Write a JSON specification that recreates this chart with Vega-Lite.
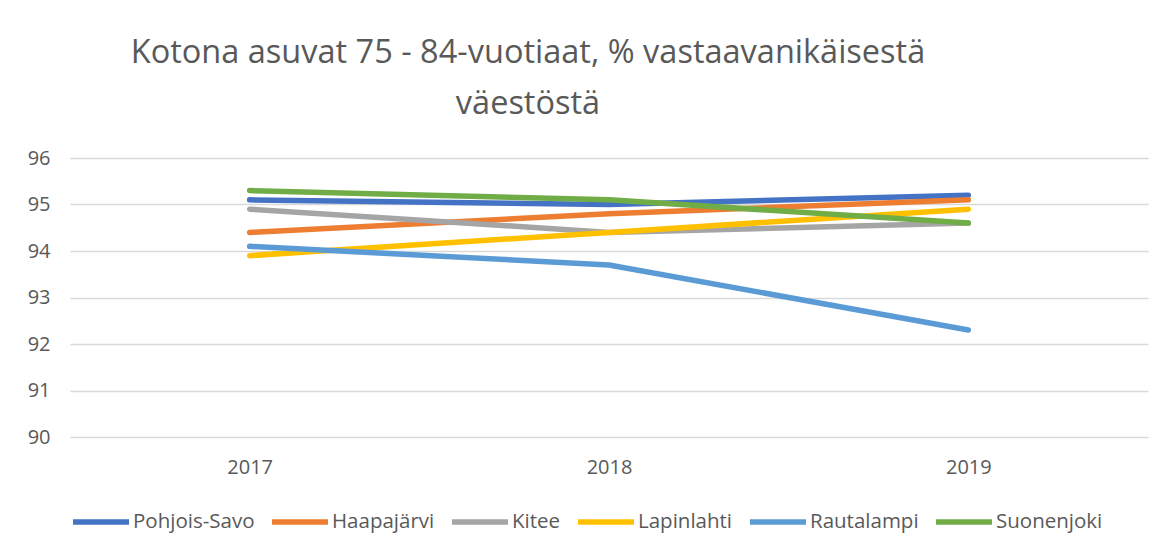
{
  "$schema": "https://vega.github.io/schema/vega-lite/v6.json",
  "width": 1078,
  "height": 279,
  "autosize": {"type": "none"},
  "padding": {"left": 70, "top": 158, "right": 13, "bottom": 114},
  "background": "white",
  "title": {
    "text": ["Kotona asuvat 75 - 84-vuotiaat, % vastaavanikäisestä", "väestöstä"],
    "anchor": "middle",
    "frame": "group",
    "dx": -81,
    "offset": 28,
    "font": "Open Sans",
    "fontSize": 32.5,
    "fontWeight": "normal",
    "color": "#595959",
    "lineHeight": 51
  },
  "data": {
    "values": [
      {"kunta": "Pohjois-Savo", "vuosi": "2017", "arvo": 95.1},
      {"kunta": "Pohjois-Savo", "vuosi": "2018", "arvo": 95.0},
      {"kunta": "Pohjois-Savo", "vuosi": "2019", "arvo": 95.2},
      {"kunta": "Haapajärvi", "vuosi": "2017", "arvo": 94.4},
      {"kunta": "Haapajärvi", "vuosi": "2018", "arvo": 94.8},
      {"kunta": "Haapajärvi", "vuosi": "2019", "arvo": 95.1},
      {"kunta": "Kitee", "vuosi": "2017", "arvo": 94.9},
      {"kunta": "Kitee", "vuosi": "2018", "arvo": 94.4},
      {"kunta": "Kitee", "vuosi": "2019", "arvo": 94.6},
      {"kunta": "Lapinlahti", "vuosi": "2017", "arvo": 93.9},
      {"kunta": "Lapinlahti", "vuosi": "2018", "arvo": 94.4},
      {"kunta": "Lapinlahti", "vuosi": "2019", "arvo": 94.9},
      {"kunta": "Rautalampi", "vuosi": "2017", "arvo": 94.1},
      {"kunta": "Rautalampi", "vuosi": "2018", "arvo": 93.7},
      {"kunta": "Rautalampi", "vuosi": "2019", "arvo": 92.3},
      {"kunta": "Suonenjoki", "vuosi": "2017", "arvo": 95.3},
      {"kunta": "Suonenjoki", "vuosi": "2018", "arvo": 95.1},
      {"kunta": "Suonenjoki", "vuosi": "2019", "arvo": 94.6}
    ]
  },
  "mark": {"type": "line", "strokeWidth": 5.5, "strokeCap": "round", "strokeJoin": "round"},
  "encoding": {
    "x": {
      "field": "vuosi",
      "type": "ordinal",
      "scale": {"type": "point", "padding": 0.5},
      "axis": {
        "title": null,
        "labelAngle": 0,
        "domain": false,
        "ticks": false,
        "grid": false,
        "labelPadding": 20,
        "labelFontSize": 20,
        "labelColor": "#595959",
        "labelFont": "Open Sans"
      }
    },
    "y": {
      "field": "arvo",
      "type": "quantitative",
      "scale": {"domain": [90, 96], "zero": false, "nice": false},
      "axis": {
        "title": null,
        "values": [90, 91, 92, 93, 94, 95, 96],
        "domain": false,
        "ticks": false,
        "grid": true,
        "gridColor": "#d9d9d9",
        "gridWidth": 1.3,
        "labelPadding": 20,
        "labelFontSize": 20,
        "labelColor": "#595959",
        "labelFont": "Open Sans"
      }
    },
    "color": {
      "field": "kunta",
      "type": "nominal",
      "scale": {
        "domain": ["Pohjois-Savo", "Haapajärvi", "Kitee", "Lapinlahti", "Rautalampi", "Suonenjoki"],
        "range": ["#4472C4", "#ED7D31", "#A5A5A5", "#FFC000", "#5B9BD5", "#70AD47"]
      },
      "legend": {
        "title": null,
        "orient": "bottom",
        "direction": "horizontal",
        "symbolType": "stroke",
        "symbolSize": 3136,
        "symbolStrokeWidth": 5.5,
        "labelFontSize": 20.5,
        "labelColor": "#595959",
        "labelFont": "Open Sans",
        "labelOffset": 1,
        "columnPadding": 6,
        "offset": 14
      }
    }
  },
  "config": {
    "view": {"stroke": null},
    "font": "Open Sans"
  }
}
